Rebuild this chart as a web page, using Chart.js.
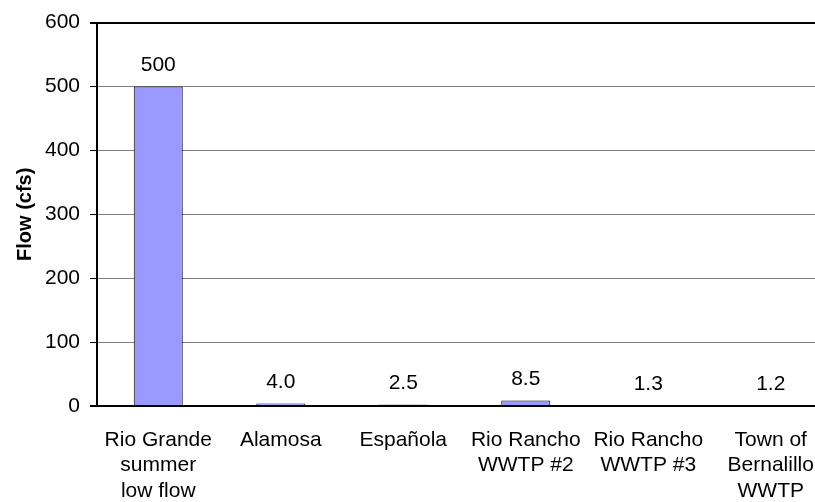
<!DOCTYPE html>
<html>
<head>
<meta charset="utf-8">
<script src="https://cdn.jsdelivr.net/npm/chart.js@4/dist/chart.umd.min.js"></script>
<style>
  html, body { margin: 0; padding: 0; background: #fff; overflow: hidden; }
  #wrap { width: 840px; height: 502px; position: relative; }
</style>
</head>
<body>
<div id="wrap"><canvas id="chart" width="840" height="502"></canvas></div>
<script>
// Flow by source
const categories = [
  ['Rio Grande', 'summer', 'low flow'],
  'Alamosa',
  'Española',
  ['Rio Rancho', 'WWTP #2'],
  ['Rio Rancho', 'WWTP #3'],
  ['Town of', 'Bernalillo', 'WWTP']
];
const flowCfs = [500, 4.0, 2.5, 8.5, 1.3, 1.2];
const yTicks = [0, 100, 200, 300, 400, 500, 600];

const FONT = '"Liberation Sans", Arial, sans-serif';

function fmt(v) { return v >= 100 ? String(Math.round(v)) : v.toFixed(1); }

// value labels above each bar
const valueLabels = {
  id: 'valueLabels',
  afterDatasetsDraw(chart) {
    const ctx = chart.ctx;
    const meta = chart.getDatasetMeta(0);
    ctx.save();
    ctx.font = '21px ' + FONT;
    ctx.fillStyle = '#000';
    ctx.textAlign = 'center';
    ctx.textBaseline = 'middle';
    meta.data.forEach((bar, i) => {
      ctx.fillText(fmt(flowCfs[i]), bar.x, bar.y - 21);
    });
    ctx.restore();
  }
};

new Chart(document.getElementById('chart'), {
  type: 'bar',
  data: {
    labels: categories,
    datasets: [{
      data: flowCfs,
      backgroundColor: '#9999FF',
      borderColor: '#000',
      borderWidth: 1,
      barPercentage: 0.4,
      categoryPercentage: 1.0
    }]
  },
  options: {
    responsive: false,
    animation: false,
    layout: { padding: { top: 20, right: 8, left: 0, bottom: 0 } },
    plugins: { legend: { display: false }, tooltip: { enabled: false } },
    scales: {
      x: {
        grid: { display: false },
        border: { display: true, color: '#000', width: 2 },
        ticks: {
          color: '#000',
          font: { family: FONT, size: 21, lineHeight: 1.22 },
          padding: 13,
          maxRotation: 0,
          autoSkip: false
        },
        afterFit(scale) { scale.height = 96; }
      },
      y: {
        min: 0,
        max: 600,
        afterBuildTicks(scale) { scale.ticks = yTicks.map(v => ({ value: v })); },
        grid: {
          color: c => (c.tick && (c.tick.value === 600 || c.tick.value === 0)) ? '#000' : '#808080',
          lineWidth: c => (c.tick && (c.tick.value === 600 || c.tick.value === 0)) ? 2 : 1,
          drawTicks: true,
          tickLength: 7,
          tickColor: '#000'
        },
        border: { display: true, color: '#000', width: 2 },
        ticks: {
          color: '#000',
          font: { family: FONT, size: 21 },
          padding: 10
        },
        title: {
          display: true,
          text: 'Flow (cfs)',
          color: '#000',
          font: { family: FONT, size: 20, weight: 'bold' },
          padding: { top: 13, bottom: 0 }
        },
        afterFit(scale) { scale.width = 97; }
      }
    }
  },
  plugins: [valueLabels]
});
</script>
</body>
</html>
